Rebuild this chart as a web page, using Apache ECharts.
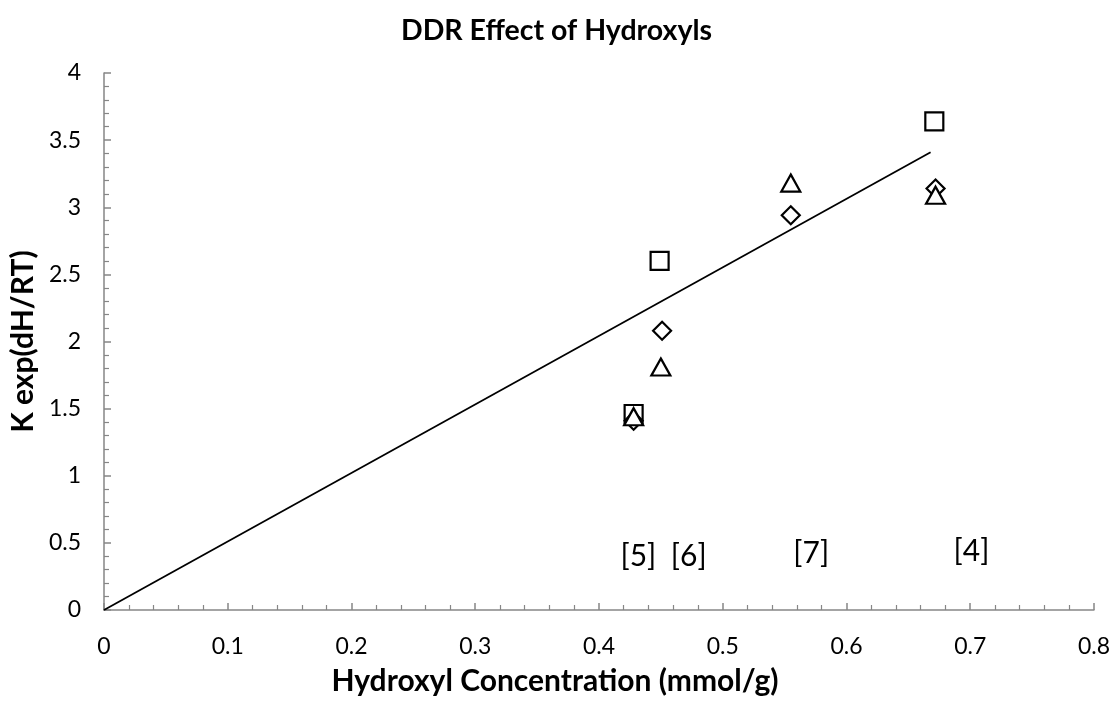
<!DOCTYPE html>
<html>
<head>
<meta charset="utf-8">
<script src="https://cdn.jsdelivr.net/npm/echarts@6/dist/echarts.min.js"></script>
<style>html,body{margin:0;padding:0;background:#fff}#c{width:1113px;height:701px}</style>
</head>
<body>
<div id="c"></div>
<script>
// Data
const squares = [[0.428, 1.46], [0.449, 2.60], [0.671, 3.64]];
const diamonds = [[0.428, 1.41], [0.451, 2.08], [0.555, 2.94], [0.672, 3.14]];
const triangles = [[0.428, 1.44], [0.450, 1.81], [0.555, 3.18], [0.672, 3.09]];
const trendline = [[0, 0], [0.668, 3.41]];
const refLabels = ['[5]', '[6]', '[7]', '[4]'];
const refLabelPos = [[0.4318, 0.40], [0.4725, 0.40], [0.5715, 0.425], [0.701, 0.44]];

const font = 'Lato';
const axisGray = '#868686';
const markerStyle = { color: '#ffffff', borderColor: '#000000', borderWidth: 2.2, opacity: 1 };

const chart = echarts.init(document.getElementById('c'), null, { renderer: 'canvas' });
chart.setOption({
  backgroundColor: '#ffffff',
  animation: false,
  textStyle: { fontFamily: font },
  title: {
    text: 'DDR Effect of Hydroxyls',
    left: 'center', top: 11,
    textStyle: { fontFamily: font, fontWeight: 'bold', fontSize: 28.5, color: '#000000' }
  },
  grid: { left: 104, right: 16, top: 73, bottom: 89 },
  xAxis: {
    type: 'value', min: 0, max: 0.8, interval: 0.1,
    name: 'Hydroxyl Concentration (mmol/g)', nameLocation: 'middle', nameGap: 56,
    nameTextStyle: { fontFamily: font, fontWeight: 'bold', fontSize: 30, color: '#000000',
      padding: [0, 88, 0, 0] },
    axisLine: { show: true, lineStyle: { color: axisGray, width: 1.5 } },
    axisTick: { show: true, inside: true, length: 7, lineStyle: { color: axisGray, width: 1.5 } },
    minorTick: { show: true, splitNumber: 5, length: 5, lineStyle: { color: axisGray, width: 1.2 } },
    axisLabel: { fontFamily: font, fontSize: 23, color: '#000000', margin: 25,
      formatter: v => (Math.round(v * 10) / 10).toString() },
    splitLine: { show: false }
  },
  yAxis: {
    type: 'value', min: 0, max: 4, interval: 0.5,
    name: 'K exp(dH/RT)', nameLocation: 'middle', nameGap: 53,
    nameTextStyle: { fontFamily: font, fontWeight: 'bold', fontSize: 30, color: '#000000' },
    axisLine: { show: true, lineStyle: { color: axisGray, width: 1.5 } },
    axisTick: { show: true, inside: true, length: 7, lineStyle: { color: axisGray, width: 1.5 } },
    minorTick: { show: true, splitNumber: 5, length: 5, lineStyle: { color: axisGray, width: 1.2 } },
    axisLabel: { fontFamily: font, fontSize: 23, color: '#000000', margin: 23 },
    splitLine: { show: false }
  },
  series: [
    {
      type: 'line', data: trendline, symbol: 'none', z: 1,
      lineStyle: { color: '#000000', width: 1.8 }
    },
    {
      type: 'scatter', data: squares, symbol: 'rect', symbolSize: 18, z: 3,
      itemStyle: markerStyle
    },
    {
      type: 'scatter', data: diamonds, symbol: 'diamond', symbolSize: [18, 18], z: 4,
      itemStyle: markerStyle
    },
    {
      type: 'scatter', data: triangles, symbol: 'triangle', symbolSize: [19, 17], z: 5,
      itemStyle: markerStyle
    },
    {
      type: 'scatter', symbolSize: 0, z: 6, silent: true,
      itemStyle: { opacity: 1 },
      data: refLabels.map((t, i) => ({ value: refLabelPos[i], name: t })),
      label: { show: true, position: 'inside', formatter: p => p.name,
        fontFamily: font, fontSize: 30, color: '#000000' }
    }
  ]
});
</script>
</body>
</html>
